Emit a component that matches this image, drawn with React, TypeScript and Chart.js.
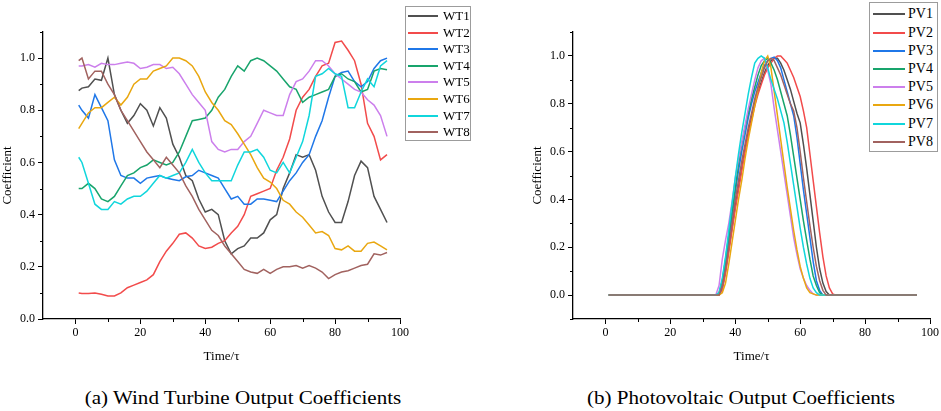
import { useEffect, useRef } from 'react';
import { Chart, registerables } from 'chart.js';

Chart.register(...registerables);

const FONT = '"Liberation Serif", "Times New Roman", serif';
const COLORS = ['#505050', '#f24b4b', '#1f77e8', '#18a46c', '#cc7fec', '#e9a710', '#10d6dc', '#a1625f'];

// wind turbines, time steps
const WT_T = [1, 2, 4, 6, 8, 10, 12, 14, 16, 18, 20, 22, 24, 26, 28, 30, 32, 34, 36, 38, 40, 42, 44, 46, 48, 50, 52, 54, 56, 58, 60, 62, 64, 66, 68, 70, 72, 74, 76, 78, 80, 82, 84, 86, 88, 90, 92, 94, 96];
const WT1 = [0.875, 0.885, 0.89, 0.92, 0.915, 1.0, 0.86, 0.8, 0.75, 0.78, 0.825, 0.8, 0.74, 0.81, 0.77, 0.67, 0.62, 0.55, 0.53, 0.46, 0.41, 0.42, 0.4, 0.3, 0.25, 0.27, 0.28, 0.31, 0.31, 0.33, 0.38, 0.4, 0.5, 0.56, 0.63, 0.62, 0.63, 0.57, 0.47, 0.41, 0.37, 0.37, 0.45, 0.55, 0.605, 0.58, 0.47, 0.42, 0.37];
const WT2 = [0.1, 0.098, 0.098, 0.1, 0.095, 0.088, 0.088, 0.1, 0.12, 0.13, 0.14, 0.15, 0.17, 0.22, 0.26, 0.29, 0.325, 0.33, 0.31, 0.28, 0.27, 0.275, 0.29, 0.3, 0.33, 0.355, 0.4, 0.47, 0.48, 0.49, 0.5, 0.57, 0.62, 0.69, 0.8, 0.85, 0.88, 0.93, 0.97, 0.98, 1.06, 1.065, 1.03, 0.99, 0.9, 0.75, 0.7, 0.61, 0.63];
const WT3 = [0.82, 0.8, 0.77, 0.86, 0.81, 0.76, 0.61, 0.55, 0.54, 0.54, 0.52, 0.54, 0.545, 0.55, 0.54, 0.535, 0.53, 0.545, 0.55, 0.57, 0.56, 0.55, 0.54, 0.5, 0.46, 0.47, 0.44, 0.44, 0.46, 0.46, 0.455, 0.45, 0.49, 0.53, 0.56, 0.6, 0.63, 0.7, 0.76, 0.85, 0.93, 0.945, 0.95, 0.91, 0.89, 0.91, 0.96, 0.99, 1.0];
const WT4 = [0.5, 0.5, 0.52, 0.5, 0.46, 0.45, 0.47, 0.51, 0.55, 0.56, 0.58, 0.59, 0.61, 0.6, 0.59, 0.6, 0.64, 0.7, 0.76, 0.765, 0.77, 0.8, 0.85, 0.88, 0.93, 0.97, 0.95, 0.99, 1.0, 0.99, 0.97, 0.95, 0.92, 0.89, 0.88, 0.83, 0.85, 0.86, 0.87, 0.88, 0.93, 0.94, 0.92, 0.91, 0.87, 0.88, 0.95, 0.96, 0.955];
const WT5 = [0.97, 0.97, 0.975, 0.965, 0.98, 0.975, 0.975, 0.98, 0.985, 0.98, 0.96, 0.965, 0.975, 0.975, 0.96, 0.965, 0.94, 0.9, 0.86, 0.83, 0.8, 0.68, 0.65, 0.64, 0.65, 0.65, 0.68, 0.7, 0.75, 0.8, 0.79, 0.78, 0.78, 0.86, 0.91, 0.92, 0.95, 0.99, 0.99, 0.97, 0.94, 0.92, 0.9, 0.88, 0.87, 0.84, 0.82, 0.78, 0.7];
const WT6 = [0.73, 0.75, 0.79, 0.81, 0.81, 0.83, 0.85, 0.82, 0.85, 0.9, 0.92, 0.92, 0.95, 0.96, 0.97, 1.0, 1.0, 0.99, 0.97, 0.93, 0.87, 0.83, 0.8, 0.76, 0.745, 0.71, 0.67, 0.63, 0.58, 0.54, 0.525, 0.5, 0.455, 0.44, 0.41, 0.39, 0.36, 0.33, 0.335, 0.32, 0.27, 0.265, 0.28, 0.26, 0.26, 0.29, 0.295, 0.28, 0.265];
const WT7 = [0.62, 0.6, 0.52, 0.44, 0.42, 0.42, 0.45, 0.44, 0.46, 0.47, 0.47, 0.49, 0.52, 0.55, 0.54, 0.55, 0.56, 0.6, 0.65, 0.6, 0.56, 0.53, 0.53, 0.53, 0.53, 0.59, 0.64, 0.64, 0.65, 0.62, 0.57, 0.56, 0.6, 0.56, 0.62, 0.68, 0.78, 0.93, 0.94, 0.96, 0.94, 0.93, 0.81, 0.81, 0.87, 0.92, 0.89, 0.97, 0.99];
const WT8 = [0.99, 1.0, 0.92, 0.95, 0.95, 0.9, 0.86, 0.8, 0.76, 0.72, 0.68, 0.64, 0.61, 0.58, 0.62, 0.59, 0.56, 0.51, 0.47, 0.42, 0.38, 0.34, 0.32, 0.28, 0.25, 0.22, 0.19, 0.18, 0.175, 0.19, 0.175, 0.19, 0.2, 0.2, 0.205, 0.195, 0.205, 0.195, 0.18, 0.155, 0.17, 0.18, 0.185, 0.195, 0.205, 0.21, 0.25, 0.245, 0.255];
const WT_NAMES = ['WT1', 'WT2', 'WT3', 'WT4', 'WT5', 'WT6', 'WT7', 'WT8'];

// photovoltaic, zero outside the daylight window
const PV_T = [1, 33, 34, 35, 36, 37, 38, 39, 40, 41, 42, 43, 44, 45, 46, 47, 48, 49, 50, 51, 52, 53, 54, 55, 56, 57, 58, 59, 60, 61, 62, 63, 64, 65, 66, 67, 68, 69, 70, 71, 96];
const PV1 = [0, 0, 0, 0, 0.03, 0.1, 0.19, 0.28, 0.37, 0.45, 0.53, 0.61, 0.68, 0.74, 0.8, 0.85, 0.89, 0.93, 0.96, 0.98, 0.99, 0.99, 0.97, 0.94, 0.9, 0.86, 0.81, 0.76, 0.72, 0.63, 0.53, 0.42, 0.31, 0.2, 0.11, 0.05, 0.015, 0, 0, 0, 0];
const PV2 = [0, 0, 0, 0, 0.02, 0.09, 0.18, 0.27, 0.36, 0.44, 0.52, 0.6, 0.67, 0.73, 0.79, 0.84, 0.88, 0.92, 0.95, 0.97, 0.99, 1.0, 1.0, 0.985, 0.97, 0.94, 0.91, 0.87, 0.83, 0.77, 0.7, 0.59, 0.48, 0.37, 0.26, 0.16, 0.08, 0.03, 0.005, 0, 0];
const PV3 = [0, 0, 0, 0, 0.04, 0.13, 0.23, 0.33, 0.43, 0.52, 0.6, 0.67, 0.74, 0.8, 0.85, 0.89, 0.93, 0.96, 0.98, 0.99, 0.995, 0.98, 0.95, 0.9, 0.85, 0.8, 0.75, 0.66, 0.55, 0.44, 0.34, 0.24, 0.14, 0.06, 0.02, 0, 0, 0, 0, 0, 0];
const PV4 = [0, 0, 0, 0.01, 0.06, 0.15, 0.25, 0.35, 0.45, 0.55, 0.63, 0.7, 0.76, 0.82, 0.87, 0.92, 0.96, 0.98, 0.99, 0.97, 0.94, 0.9, 0.85, 0.8, 0.75, 0.67, 0.58, 0.49, 0.4, 0.31, 0.23, 0.15, 0.08, 0.04, 0.01, 0, 0, 0, 0, 0, 0];
const PV5 = [0, 0, 0, 0.04, 0.15, 0.23, 0.3, 0.39, 0.49, 0.57, 0.64, 0.71, 0.78, 0.84, 0.9, 0.95, 0.98, 0.99, 0.94, 0.88, 0.78, 0.69, 0.6, 0.51, 0.42, 0.33, 0.24, 0.17, 0.11, 0.07, 0.04, 0.02, 0.005, 0, 0, 0, 0, 0, 0, 0, 0];
const PV6 = [0, 0, 0, 0, 0.01, 0.05, 0.13, 0.22, 0.31, 0.4, 0.48, 0.57, 0.65, 0.72, 0.79, 0.86, 0.93, 0.98, 1.0, 0.95, 0.85, 0.75, 0.65, 0.55, 0.45, 0.36, 0.27, 0.19, 0.12, 0.07, 0.03, 0.01, 0.005, 0, 0, 0, 0, 0, 0, 0, 0];
const PV7 = [0, 0, 0, 0.01, 0.07, 0.16, 0.27, 0.38, 0.49, 0.59, 0.68, 0.76, 0.84, 0.91, 0.97, 0.99, 1.0, 0.99, 0.95, 0.9, 0.86, 0.82, 0.77, 0.72, 0.64, 0.55, 0.46, 0.37, 0.28, 0.2, 0.13, 0.07, 0.03, 0.01, 0, 0, 0, 0, 0, 0, 0];
const PV8 = [0, 0, 0, 0, 0.04, 0.11, 0.2, 0.3, 0.4, 0.48, 0.56, 0.63, 0.7, 0.76, 0.82, 0.87, 0.91, 0.95, 0.98, 0.99, 0.98, 0.95, 0.92, 0.88, 0.84, 0.8, 0.77, 0.7, 0.6, 0.49, 0.39, 0.29, 0.2, 0.12, 0.06, 0.02, 0, 0, 0, 0, 0];
const PV_NAMES = ['PV1', 'PV2', 'PV3', 'PV4', 'PV5', 'PV6', 'PV7', 'PV8'];

const X_TICKS = [0, 20, 40, 60, 80, 100];
const X_MINOR = [10, 30, 50, 70, 90];
const Y_TICKS = [0, 0.2, 0.4, 0.6, 0.8, 1.0];
const Y_MINOR_WT = [0.1, 0.3, 0.5, 0.7, 0.9, 1.1];
const Y_MINOR_PV = [-0.1, 0.1, 0.3, 0.5, 0.7, 0.9, 1.1];

const minorTicks = {
  id: 'minorTicks',
  afterDraw(chart: any, _args: any, opts: any) {
    const { ctx, scales } = chart;
    const x = scales.x;
    const y = scales.y;
    ctx.save();
    ctx.strokeStyle = '#000';
    ctx.lineWidth = 1;
    ctx.beginPath();
    for (const v of opts.x || []) {
      const px = Math.round(x.getPixelForValue(v)) + 0.5;
      ctx.moveTo(px, y.bottom);
      ctx.lineTo(px, y.bottom + 3);
    }
    for (const v of opts.y || []) {
      const py = Math.round(y.getPixelForValue(v)) + 0.5;
      ctx.moveTo(x.left, py);
      ctx.lineTo(x.left - 3, py);
    }
    ctx.stroke();
    ctx.restore();
  },
};

interface PanelProps {
  times: number[];
  series: number[][];
  names: string[];
  yMin: number;
  yMinor: number[];
  padLeft: number;
  padRight: number;
  yWidth: number;
  yTitlePad: number;
}

function LinePanel({ times, series, names, yMin, yMinor, padLeft, padRight, yWidth, yTitlePad }: PanelProps) {
  const canvasRef = useRef<HTMLCanvasElement | null>(null);

  useEffect(() => {
    if (!canvasRef.current) return;
    const chart = new Chart(canvasRef.current, {
      type: 'line',
      data: {
        datasets: series.map((vals, i) => ({
          label: names[i],
          data: times.map((t, j) => ({ x: t, y: vals[j] })),
          borderColor: COLORS[i],
          borderWidth: 1.5,
          pointRadius: 0,
          tension: 0,
          order: series.length - i,
        })),
      },
      options: {
        animation: false,
        responsive: true,
        maintainAspectRatio: false,
        events: [],
        layout: { padding: { top: 32, right: padRight, left: padLeft, bottom: 0 } },
        plugins: {
          legend: { display: false },
          tooltip: { enabled: false },
          minorTicks: { x: X_MINOR, y: yMinor },
        } as any,
        scales: {
          x: {
            type: 'linear',
            min: -10,
            max: 100,
            afterBuildTicks: (s: any) => {
              s.ticks = X_TICKS.map((value) => ({ value }));
            },
            afterFit: (s: any) => {
              s.height = 51;
            },
            grid: { drawOnChartArea: false, tickLength: 5, tickColor: '#000', tickWidth: 1 },
            border: { color: '#000', width: 1.3 },
            ticks: {
              color: '#000',
              font: { family: FONT, size: 12 },
              padding: 2,
              maxRotation: 0,
              autoSkip: false,
              callback: (v: any) => String(v),
            },
            title: {
              display: true,
              text: 'Time/τ',
              color: '#000',
              font: { family: FONT, size: 13 },
              padding: { top: 0, bottom: 6 },
            },
          },
          y: {
            type: 'linear',
            min: yMin,
            max: 1.1,
            afterBuildTicks: (s: any) => {
              s.ticks = Y_TICKS.map((value) => ({ value }));
            },
            afterFit: (s: any) => {
              s.width = yWidth;
            },
            grid: { drawOnChartArea: false, tickLength: 5, tickColor: '#000', tickWidth: 1 },
            border: { color: '#000', width: 1.3 },
            ticks: {
              color: '#000',
              font: { family: FONT, size: 12 },
              padding: 3,
              callback: (v: any) => Number(v).toFixed(1),
            },
            title: {
              display: true,
              text: 'Coefficient',
              color: '#000',
              font: { family: FONT, size: 13 },
              padding: { top: yTitlePad, bottom: 0 },
            },
          },
        },
      },
      plugins: [minorTicks],
    });
    return () => {
      chart.destroy();
    };
  }, []);

  return <canvas ref={canvasRef} />;
}

interface LegendProps {
  names: string[];
  left: number;
  top: number;
  width: number;
  height: number;
  firstY: number;
  rowH: number;
  lineLeft: number;
  lineW: number;
  gap: number;
  fontSize: number;
}

function Legend({ names, left, top, width, height, firstY, rowH, lineLeft, lineW, gap, fontSize }: LegendProps) {
  return (
    <div style={{ position: 'absolute', left, top, width, height, border: '1px solid #9c9c9c', boxSizing: 'border-box', background: '#fff' }}>
      {names.map((n, i) => (
        <div
          key={n}
          style={{
            position: 'absolute',
            left: lineLeft,
            top: firstY - top + i * rowH - 10,
            height: 20,
            display: 'flex',
            alignItems: 'center',
            fontFamily: FONT,
            fontSize,
            color: '#000',
            whiteSpace: 'nowrap',
          }}
        >
          <span style={{ display: 'inline-block', width: lineW, height: 0, borderTop: `2px solid ${COLORS[i]}`, marginRight: gap }} />
          {n}
        </div>
      ))}
    </div>
  );
}

const captionStyle = {
  position: 'absolute' as const,
  top: 388,
  width: 400,
  textAlign: 'center' as const,
  fontFamily: FONT,
  fontSize: 18,
  lineHeight: '20px',
  color: '#000',
  transform: 'scaleX(1.17)',
  transformOrigin: 'center',
};

export default function App() {
  return (
    <div style={{ position: 'absolute', left: 0, top: 0, width: 941, height: 411, background: '#fff', overflow: 'hidden' }}>
      <div style={{ position: 'absolute', left: 0, top: 0, width: 470, height: 370 }}>
        <LinePanel
          times={WT_T}
          series={[WT1, WT2, WT3, WT4, WT5, WT6, WT7, WT8]}
          names={WT_NAMES}
          yMin={0}
          yMinor={Y_MINOR_WT}
          padLeft={0}
          padRight={70}
          yWidth={43}
          yTitlePad={0}
        />
      </div>
      <div style={{ position: 'absolute', left: 470, top: 0, width: 471, height: 370 }}>
        <LinePanel
          times={PV_T}
          series={[PV1, PV2, PV3, PV4, PV5, PV6, PV7, PV8]}
          names={PV_NAMES}
          yMin={-0.1}
          yMinor={Y_MINOR_PV}
          padLeft={58}
          padRight={11}
          yWidth={45}
          yTitlePad={2}
        />
      </div>
      <Legend names={WT_NAMES} left={405} top={6} width={66} height={135} firstY={15} rowH={16.6} lineLeft={2} lineW={30} gap={5} fontSize={13} />
      <Legend names={PV_NAMES} left={869} top={2} width={69} height={150} firstY={13.3} rowH={18.2} lineLeft={3} lineW={32} gap={3} fontSize={14} />
      <div style={{ ...captionStyle, left: 243 - 200 }}>(a) Wind Turbine Output Coefficients</div>
      <div style={{ ...captionStyle, left: 741 - 200 }}>(b) Photovoltaic Output Coefficients</div>
    </div>
  );
}
